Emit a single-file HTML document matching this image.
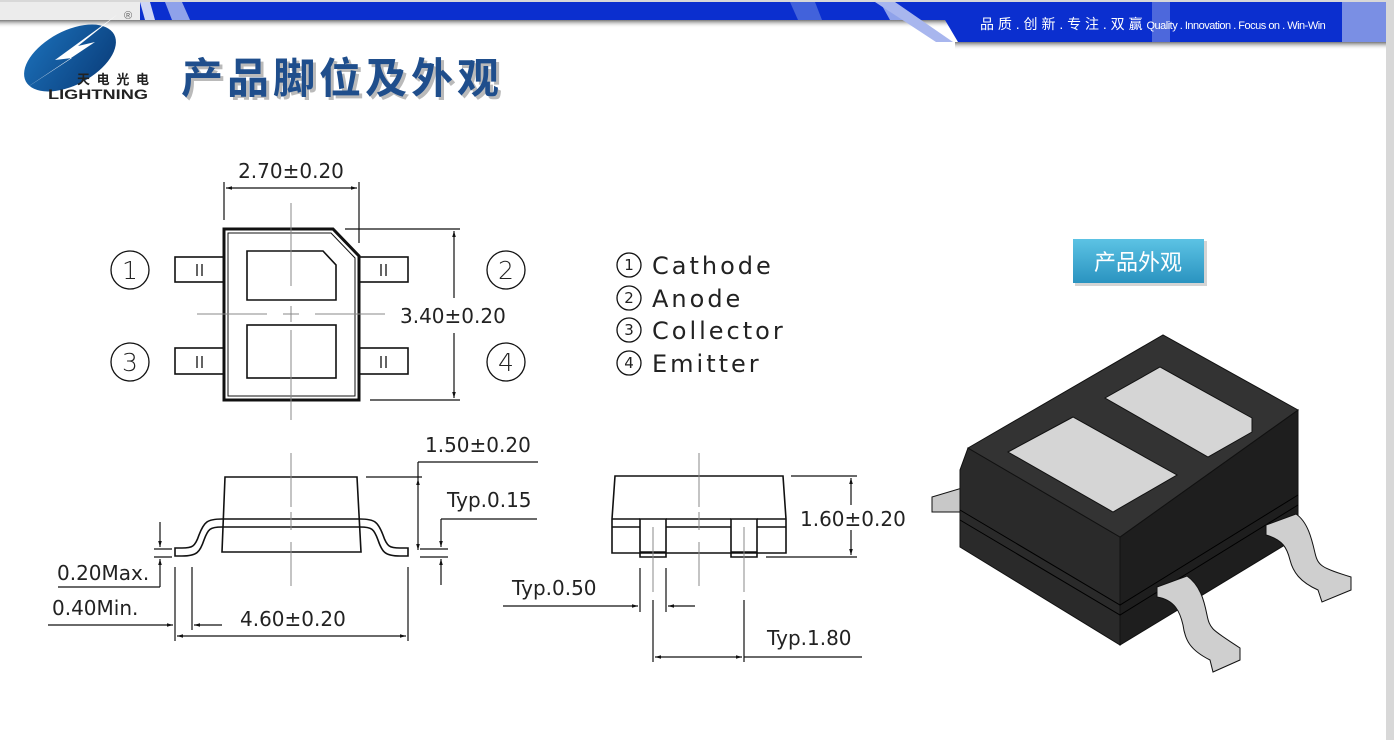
<!DOCTYPE html>
<html><head><meta charset="utf-8"><style>
html,body{margin:0;padding:0;background:#fff;width:1394px;height:740px;overflow:hidden}
svg{display:block}
.t{font-family:"DejaVu Sans","Liberation Sans",sans-serif;fill:#222}
</style></head><body>
<svg width="1394" height="740" viewBox="0 0 1394 740" xmlns="http://www.w3.org/2000/svg">
<defs>
<marker id="a" viewBox="0 0 10 10" refX="10" refY="5" markerWidth="9" markerHeight="6" orient="auto-start-reverse" markerUnits="userSpaceOnUse"><path d="M0,2 L10,5 L0,8 Z" fill="#111"/></marker>
<linearGradient id="btn" x1="0" y1="0" x2="0" y2="1"><stop offset="0" stop-color="#5cc3e4"/><stop offset="1" stop-color="#2a93c0"/></linearGradient>
<linearGradient id="logo" x1="0" y1="0" x2="1" y2="1"><stop offset="0" stop-color="#1b6fb8"/><stop offset="1" stop-color="#0a3d7a"/></linearGradient>
<linearGradient id="sh" x1="0" y1="0" x2="0" y2="1"><stop offset="0" stop-color="#777"/><stop offset="1" stop-color="#fff" stop-opacity="0"/></linearGradient>
</defs>
<rect width="1394" height="740" fill="#fff"/>
<rect x="1386" y="0" width="8" height="740" fill="#d8d8d8"/>
<rect x="0" y="0" width="1394" height="2" fill="#d8d8d8"/>
<!-- header -->
<rect x="0" y="2" width="140" height="18" fill="#ececec"/>
<rect x="0" y="20" width="960" height="8" fill="url(#sh)"/>
<rect x="955" y="42" width="431" height="8" fill="url(#sh)"/>
<polygon points="140,2 1386,2 1386,42 958,42 945,20 140,20" fill="#0b2fcf"/>
<polygon points="140,2 150,2 155,20 145,20" fill="#cfd6f4"/>
<polygon points="165,2 182,2 190,20 172,20" fill="#8fa2ea"/>
<polygon points="790,2 815,2 822,20 798,20" fill="#5a78e0" opacity=".7"/>
<polygon points="880,2 895,2 905,20 890,20" fill="#8fa2ea"/>
<polygon points="875,2 895,2 953,42 936,42" fill="#a8b6ee"/>
<rect x="1152" y="2" width="18" height="40" fill="#7a8fe4" opacity=".6"/>
<rect x="1342" y="2" width="44" height="40" fill="#7a8fe4"/>
<text x="980" y="29" font-family="'Liberation Sans','Noto Sans CJK SC',sans-serif" font-size="14" fill="#fff">品 质 . 创 新 . 专 注 . 双 赢 <tspan font-size="11" letter-spacing="-0.5">Quality . Innovation . Focus on . Win-Win</tspan></text>
<!-- logo -->
<ellipse cx="70" cy="58" rx="50" ry="27" fill="url(#logo)" transform="rotate(-28 70 58)"/>
<polygon points="118,14 55,60 72,58 20,92 95,42 78,46" fill="#fff"/>
<text x="77" y="84" font-family="'Noto Sans CJK SC',sans-serif" font-size="13" font-weight="bold" fill="#222" textLength="72">天电光电</text>
<text x="48" y="99" font-family="'Liberation Sans',sans-serif" font-size="14" font-weight="bold" fill="#222" textLength="100" lengthAdjust="spacingAndGlyphs">LIGHTNING</text>
<text x="124" y="19" font-family="'Liberation Sans',sans-serif" font-size="11" fill="#666">®</text>
<text x="184" y="96" font-family="'Noto Sans CJK SC',sans-serif" font-size="42" font-weight="bold" fill="#777" opacity=".5" textLength="318">产品脚位及外观</text>
<text x="181" y="93" font-family="'Noto Sans CJK SC',sans-serif" font-size="42" font-weight="bold" fill="#1f4e8c" textLength="318">产品脚位及外观</text>

<g stroke="#111" fill="none" stroke-width="1.6">
<!-- top view -->
<path d="M224,229 H333 L359,256 V400 H224 Z" stroke-width="3"/>
<path d="M228,233 H331 L355,258 V396 H228 Z" stroke-width="1"/>
<path d="M247,251 H323 L336,265 V300 H247 Z"/>
<rect x="247" y="325" width="89" height="53"/>
<rect x="175" y="257" width="49" height="25"/><rect x="175" y="348" width="49" height="26"/>
<rect x="359" y="257" width="49" height="25"/><rect x="359" y="348" width="49" height="26"/>
<g stroke-width="1.3"><path d="M197,264v12M202,264v12M197,356v12M202,356v12M381,264v12M386,264v12M381,356v12M386,356v12"/></g>
<circle cx="130" cy="270" r="19" stroke-width="1.3"/><circle cx="130" cy="362" r="19" stroke-width="1.3"/>
<circle cx="506" cy="270" r="19" stroke-width="1.3"/><circle cx="506" cy="362" r="19" stroke-width="1.3"/>
<circle cx="629" cy="265" r="12" stroke-width="1.3"/><circle cx="629" cy="298" r="12" stroke-width="1.3"/>
<circle cx="629" cy="330" r="12" stroke-width="1.3"/><circle cx="629" cy="363" r="12" stroke-width="1.3"/>
<g stroke="#888" stroke-width="1"><path d="M197,314H267M283,314H299M315,314H385M291,203V286M291,306V322M291,330V420"/></g>
<path d="M224,182V220M359,182V243M345,229H460M370,400H460" stroke-width="1.2"/>
<path d="M226,188H357" marker-start="url(#a)" marker-end="url(#a)" stroke-width="1.2"/>
<path d="M454,231V298" marker-start="url(#a)" stroke-width="1.2"/>
<path d="M454,333V398" marker-end="url(#a)" stroke-width="1.2"/>
<!-- side view -->
<path d="M222,552 L225,477 H357 L361,552 Z"/>
<path d="M222,519 H360 M222,527 H360"/>
<path d="M360,519 C375,519 378,522 383,535 C387,547 390,548 400,548 H408 V556 H400 C385,556 382,552 378,540 C374,529 372,527 360,527"/>
<path d="M222,519 C207,519 204,522 199,535 C195,547 192,548 182,548 H175 V556 H182 C197,556 200,552 204,540 C208,529 210,527 222,527"/>
<g stroke="#888" stroke-width="1"><path d="M291,453V507M291,512V530M291,542V586"/></g>
<path d="M366,477H422M418,462H538M420,549H448M420,557H448M441,519H537" stroke-width="1.2"/>
<path d="M418,479V550" marker-start="url(#a)" marker-end="url(#a)" stroke-width="1.2"/>
<path d="M418,462V479" stroke-width="1.2"/>
<path d="M441,519V547" marker-end="url(#a)" stroke-width="1.2"/>
<path d="M441,585V559" marker-end="url(#a)" stroke-width="1.2"/>
<path d="M160,522V547" marker-end="url(#a)" stroke-width="1.2"/>
<path d="M160,587V559" marker-end="url(#a)" stroke-width="1.2"/>
<path d="M160,587H58M154,549H172M154,557H172" stroke-width="1.2"/>
<path d="M175,567V641M192,567V630M408,567V641" stroke-width="1.2"/>
<path d="M48,625H173" marker-end="url(#a)" stroke-width="1.2"/>
<path d="M222,625H194" marker-end="url(#a)" stroke-width="1.2"/>
<path d="M177,636H406" marker-start="url(#a)" marker-end="url(#a)" stroke-width="1.2"/>
<!-- end view -->
<path d="M612,553 V519 L615,476 H783 L786,519 V553 Z"/>
<path d="M612,519H640M666,519H731M757,519H786M612,527H640M666,527H731M757,527H786"/>
<path d="M640,519H666V557H640Z M640,552H666 M731,519H757V557H731Z M731,552H757"/>
<g stroke="#888" stroke-width="1"><path d="M699,453V507M699,512V530M699,542V586M653,527V592M744,527V592"/></g>
<path d="M791,476H857M766,557H857" stroke-width="1.2"/>
<path d="M851,505V478" marker-end="url(#a)" stroke-width="1.2"/>
<path d="M851,530V555" marker-end="url(#a)" stroke-width="1.2"/>
<path d="M640,568V612M666,568V612M653,600V662M744,600V662" stroke-width="1.2"/>
<path d="M503,606H638" marker-end="url(#a)" stroke-width="1.2"/>
<path d="M695,606H668" marker-end="url(#a)" stroke-width="1.2"/>
<path d="M655,657H742" marker-start="url(#a)" marker-end="url(#a)" stroke-width="1.2"/>
<path d="M744,657H862" stroke-width="1.2"/>
</g>
<g class="t" font-size="20">
<text x="291" y="178" text-anchor="middle">2.70±0.20</text>
<text x="400" y="323">3.40±0.20</text>
<text x="425" y="452">1.50±0.20</text>
<text x="447" y="507">Typ.0.15</text>
<text x="57" y="580">0.20Max.</text>
<text x="52" y="615">0.40Min.</text>
<text x="240" y="626">4.60±0.20</text>
<text x="800" y="526">1.60±0.20</text>
<text x="512" y="595">Typ.0.50</text>
<text x="767" y="645">Typ.1.80</text>
<g font-size="25" font-weight="300" text-anchor="middle">
<text x="130" y="279">1</text><text x="130" y="371">3</text>
<text x="506" y="279">2</text><text x="506" y="371">4</text>
</g>
<g font-size="15" text-anchor="middle">
<text x="629" y="270">1</text><text x="629" y="303">2</text><text x="629" y="335">3</text><text x="629" y="368">4</text>
</g>
<g font-size="24" letter-spacing="3">
<text x="652" y="274">Cathode</text>
<text x="652" y="307">Anode</text>
<text x="652" y="339">Collector</text>
<text x="652" y="372">Emitter</text>
</g>
</g>
<!-- button -->
<rect x="1075" y="241" width="132" height="45" fill="#aaa" opacity=".5"/>
<rect x="1073" y="239" width="131" height="44" fill="url(#btn)"/>
<text x="1138" y="270" text-anchor="middle" font-family="'Liberation Sans','Noto Sans CJK SC',sans-serif" font-size="22" fill="#fff">产品外观</text>
<!-- 3D chip -->
<g stroke="#111" stroke-width="1">
<polygon points="932,497 962,488 962,512 932,512" fill="#c8c8c8"/>
<polygon points="968,448 1120,537 1120,645 960,547 960,470" fill="#2a2a2a"/>
<polygon points="1120,537 1298,410 1298,537 1120,645" fill="#1e1e1e"/>
<polygon points="968,448 1163,335 1298,410 1120,537" fill="#333"/>
<path d="M960,510 L1120,605 L1298,495 M960,520 L1120,615 L1298,505" stroke="#000" fill="none"/>
<polygon points="1008,452 1073,417 1177,475 1113,512" fill="#d5d5d5"/>
<polygon points="1105,398 1160,367 1252,418 1252,432 1208,457" fill="#d5d5d5"/>
<path d="M1157,587 L1187,576 C1200,585 1204,600 1207,615 C1210,630 1213,630 1240,648 V660 L1213,672 L1210,660 C1190,650 1185,640 1183,625 C1180,612 1175,600 1157,597 Z" fill="#cfcfcf"/>
<path d="M1266,525 L1296,514 C1308,522 1312,540 1315,553 C1318,566 1322,568 1351,577 V590 L1322,602 L1318,590 C1300,582 1293,572 1290,560 C1287,548 1283,540 1266,535 Z" fill="#cfcfcf"/>
</g>
</svg>
</body></html>
